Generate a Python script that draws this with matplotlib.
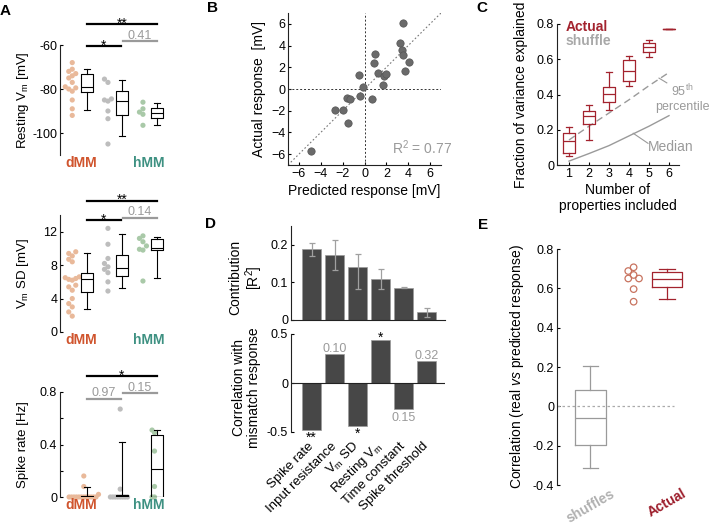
import numpy as np
import matplotlib
matplotlib.use("Agg")
import matplotlib.pyplot as plt

plt.rcParams["font.family"] = ["Liberation Sans", "DejaVu Sans"]
plt.rcParams["font.size"] = 9
plt.rcParams["mathtext.fontset"] = "custom"
plt.rcParams["mathtext.rm"] = "Liberation Sans"
plt.rcParams["mathtext.it"] = "Liberation Sans:italic"
plt.rcParams["axes.linewidth"] = 0.8
plt.rcParams["axes.edgecolor"] = "#222222"

W, H = 710, 524

# ---------------- A: properties per group (dMM, other, hMM)
rest_dots = [
    [-68, -71, -72, -73, -74, -75, -77, -79, -79.5, -80, -81, -85, -89, -92],
    [-75.5, -77, -84.5, -85, -85.5, -90, -93.5, -105],
    [-86, -89, -90.5, -91.5, -96.5],
]
rest_box = [  # whislo, q1, med, q3, whishi
    [-89.7, -81.5, -79, -73, -70.8],
    [-101.5, -92, -85.4, -81, -76],
    [-96.5, -93, -91, -88.5, -86.5],
]
rest_sig = [(0, 2, -50.5, "**"), (0, 1, -60.5, "*"), (1, 2, -58.2, "0.41")]

sd_dots = [
    [9.6, 9.4, 9.1, 8.7, 8.4, 6.6, 6.5, 6.4, 6.3, 6.2, 5.6, 5.4, 5.0, 4.0, 3.4, 3.0, 2.4, 1.9],
    [12.4, 10.5, 8.8, 8.2, 7.8, 7.5, 7.1, 6.0, 4.9],
    [11.5, 11.2, 10.8, 10.3, 9.9, 9.8, 6.1],
]
sd_box = [
    [2.7, 4.8, 6.3, 7.1, 9.5],
    [5.3, 6.7, 7.7, 9.2, 11.7],
    [6.5, 9.8, 10.1, 11.1, 11.4],
]
sd_sig = [(0, 2, 15.7, "**"), (0, 1, 13.36, "*"), (1, 2, 13.7, "0.14")]

spike_dots = [
    [0.16, 0.08, 0.02, 0, 0, 0, 0, 0, 0, 0, 0, 0, 0, 0, 0],
    [0.67, 0.06, 0, 0, 0, 0, 0, 0, 0, 0],
    [0.51, 0.49, 0.35, 0.08, 0, 0],
]
spike_box = [
    [0, 0, 0, 0.01, 0.08],
    [0, 0, 0.01, 0.015, 0.42],
    [0, 0, 0.21, 0.47, 0.51],
]
spike_sig = [(0, 2, 0.92, "*"), (0, 1, 0.75, "0.97"), (1, 2, 0.79, "0.15")]

group_labels = ["dMM", "hMM"]
dot_colors = ["#e9b99a", "#bdbdbd", "#a9c9a8"]

# ---------------- B: predicted vs actual
pred = [-4.9, -2.7, -2.0, -1.6, -1.3, -1.5, -0.4, -0.5, -0.1, 0.7, 0.9,
        1.0, 1.2, 1.7, 1.8, 2.0, 3.25, 3.4, 3.5, 3.55, 3.7, 4.1]
actual = [-5.7, -1.9, -1.9, -0.8, -0.9, -3.1, -0.6, 1.3, 0.2, -0.9, 2.4,
          3.2, 1.5, 0.4, 1.2, 1.4, 4.2, 3.6, 6.1, 3.1, 1.7, 2.5]
r2_text = "R$^2$ = 0.77"

# ---------------- C: variance explained
n_props = [1, 2, 3, 4, 5, 6]
c_box = [
    [0.051, 0.066, 0.138, 0.184, 0.218],
    [0.142, 0.231, 0.279, 0.309, 0.341],
    [0.313, 0.360, 0.402, 0.442, 0.525],
    [0.449, 0.478, 0.531, 0.593, 0.616],
    [0.610, 0.639, 0.667, 0.692, 0.707],
    [0.772, 0.772, 0.772, 0.772, 0.772],
]
shuffle_p95 = [0.142, 0.22, 0.295, 0.37, 0.45, 0.525]
shuffle_median = [0.022, 0.065, 0.11, 0.165, 0.22, 0.28]

# ---------------- D: contributions and correlations
props = ["Spike rate", "Input resistance", r"V$_\mathrm{m}$ SD",
         r"Resting V$_\mathrm{m}$", "Time constant", "Spike threshold"]
contrib = [0.188, 0.173, 0.140, 0.109, 0.086, 0.022]
contrib_lo = [0.171, 0.133, 0.082, 0.082, 0.085, 0.009]
contrib_hi = [0.206, 0.213, 0.175, 0.135, 0.087, 0.033]
corr = [-0.483, 0.297, -0.443, 0.436, -0.264, 0.22]
corr_p = ["**", "0.10", "*", "*", "0.15", "0.32"]

# ---------------- E: correlation real vs predicted
shuffle_stats = [-0.314, -0.195, -0.058, 0.082, 0.205]
actual_stats = [0.544, 0.608, 0.65, 0.681, 0.70]
actual_dots = [0.707, 0.688, 0.668, 0.65, 0.65, 0.596, 0.532]

RED = "#a3232e"
GREY = "#9a9a9a"
DMM_C = "#d0552e"
HMM_C = "#3e9182"


def add_ax(l, t, r, b):
    return fig.add_axes([l / W, 1 - b / H, (r - l) / W, (b - t) / H])


def stats(v):
    return dict(whislo=v[0], q1=v[1], med=v[2], q3=v[3], whishi=v[4], fliers=[])


def swarm(vals, center, dx, dy):
    placed, xs = [], []
    offs = [0] + [s * i * dx for i in range(1, 40) for s in (-1, 1)]
    for v in vals:
        for o in offs:
            if all(abs(v - pv) >= dy or abs(o - po) >= dx * 0.99 for pv, po in placed):
                break
        placed.append((v, o))
        xs.append(center + o)
    return xs


def style(ax, spines=("left",)):
    for s in ["left", "right", "top", "bottom"]:
        ax.spines[s].set_visible(s in spines)
    ax.tick_params(direction="in", length=2.5, width=0.8, labelsize=9, pad=2)


fig = plt.figure(figsize=(7.1, 5.24), dpi=100)

# ---------------- panel A
a_rows = [
    (45, 155, rest_dots, rest_box, rest_sig, (-110, -60), [-100, -80, -60], [],
     r"Resting V$_\mathrm{m}$ [mV]", [0.35, 1.37, 2.37], 0.1, 2.3),
    (215, 332, sd_dots, sd_box, sd_sig, (0, 14), [0, 4, 8, 12], [],
     r"V$_\mathrm{m}$ SD [mV]", [0.35, 1.37, 2.37], 0.1, 0.6),
    (392, 497, spike_dots, spike_box, spike_sig, (0, 0.8), [0, 0.4, 0.8], [0.2, 0.6],
     "Spike rate [Hz]", [0.68, 1.72, 2.7], 0.07, 0.025),
]
box_x = [0.77, 1.77, 2.77]
for top, bot, dots, boxes, sigs, ylim, yt, ymin, ylab, dx0, ddx, dy in a_rows:
    ax = add_ax(60, top, 172, bot)
    style(ax)
    for i in range(3):
        order = np.argsort(dots[i])
        vals = np.array(dots[i])[order]
        xs = swarm(vals, dx0[i], ddx, dy)
        ax.scatter(xs, vals, s=14, color=dot_colors[i], edgecolors="none",
                   zorder=1, clip_on=False)
    ax.bxp([stats(b) for b in boxes], positions=box_x, widths=0.33,
           capwidths=0.15, showfliers=False,
           boxprops=dict(color="k", lw=0.8), whiskerprops=dict(color="k", lw=0.8),
           capprops=dict(color="k", lw=0.8), medianprops=dict(color="k", lw=0.8),
           manage_ticks=False)
    for i0, i1, y, t in sigs:
        c = "k" if "*" in t else GREY
        x0 = box_x[i0] + (0.03 if i0 == 1 else 0)
        x1 = box_x[i1] - (0.03 if i1 == 1 else 0)
        ax.plot([x0, x1], [y, y], color=c, lw=1.6, clip_on=False)
        off = -2.5 if "*" in t else 1.5
        ax.annotate(t, ((x0 + x1) / 2, y), xytext=(0, off), textcoords="offset points",
                    ha="center", va="baseline", color=c, fontsize=10 if "*" in t else 9,
                    annotation_clip=False)
    ax.set_xlim(0, 3.2)
    ax.set_yticks(yt)
    ax.set_yticklabels([f"{v:g}" for v in yt])
    if ymin:
        ax.set_yticks(ymin, minor=True)
        ax.tick_params(which="minor", direction="in", length=2, width=0.8)
    ax.set_ylim(*ylim)
    ax.set_xticks([])
    ax.set_ylabel(ylab, fontsize=9.5)
    ax.yaxis.set_label_coords(-0.33, 0.5)
    ax.yaxis.label.set_va("center")
    for lbl, xx, col in zip(group_labels, [0.6, 2.54], [DMM_C, HMM_C]):
        ax.annotate(lbl, (xx, 0), xycoords=("data", "axes fraction"),
                    xytext=(0, -6), textcoords="offset points", ha="center",
                    va="center", color=col, fontweight="bold", fontsize=10,
                    annotation_clip=False)

# ---------------- panel B
axb = add_ax(288, 13, 441, 165)
style(axb, ("left", "bottom"))
lim = (-7, 7)
axb.plot(lim, lim, ls=(0, (1.5, 2)), color="#777777", lw=0.8)
axb.axhline(0, ls=(0, (2, 2)), color="#333333", lw=0.7)
axb.axvline(0, ls=(0, (2, 2)), color="#333333", lw=0.7)
axb.scatter(pred, actual, s=28, color="#6a6a6a", edgecolors="#555555",
            linewidths=0.5, zorder=3, clip_on=False)
axb.set_xlim(*lim)
axb.set_ylim(*lim)
ticks = [-6, -4, -2, 0, 2, 4, 6]
axb.set_xticks(ticks)
axb.set_yticks(ticks)
axb.text(8.0, -5.4, r2_text, ha="right", va="center", color=GREY, fontsize=10)
axb.set_xlabel("Predicted response [mV]", fontsize=10)
axb.set_ylabel("Actual response  [mV]", fontsize=10)
axb.xaxis.set_label_coords(0.5, -0.17)
axb.xaxis.label.set_va("center")
axb.yaxis.set_label_coords(-0.19, 0.5)
axb.yaxis.label.set_va("center")

# ---------------- panel C
axc = add_ax(557, 24, 679, 165)
style(axc, ("left", "bottom"))
axc.plot(n_props, shuffle_median, color=GREY, lw=1)
axc.plot(n_props, shuffle_p95, color=GREY, lw=1, ls=(0, (5, 3)))
axc.bxp([stats(b) for b in c_box], positions=n_props, widths=0.6,
        capwidths=0.3, showfliers=False,
        boxprops=dict(color=RED, lw=0.9), whiskerprops=dict(color=RED, lw=0.9),
        capprops=dict(color=RED, lw=0.9), medianprops=dict(color=RED, lw=0.9),
        manage_ticks=False)
axc.set_xlim(0.4, 6.5)
axc.set_ylim(0, 0.8)
axc.set_xticks(n_props)
axc.set_yticks([0, 0.2, 0.4, 0.6, 0.8])
axc.set_yticklabels(["0", "0.2", "0.4", "0.6", "0.8"])
axc.text(0.85, 0.785, "Actual", color=RED, fontweight="bold", fontsize=10, va="center")
axc.text(0.85, 0.705, "shuffle", color="#a8a8a8", fontweight="bold", fontsize=10, va="center")
axc.plot([5.5, 5.89], [0.493, 0.466], color=GREY, lw=0.8)
axc.text(6.68, 0.38, "95$^{\\mathrm{th}}$\npercentile", color=GREY, fontsize=9,
         ha="center", va="center", linespacing=1.25)
axc.plot([4.21, 4.95], [0.18, 0.123], color=GREY, lw=0.8)
axc.text(6.06, 0.104, "Median", color=GREY, fontsize=10, ha="center", va="center")
axc.set_xlabel("Number of\nproperties included", fontsize=10, linespacing=1.15)
axc.xaxis.set_label_coords(0.5, -0.235)
axc.xaxis.label.set_va("center")
axc.set_ylabel("Fraction of variance explained", fontsize=10)
axc.yaxis.set_label_coords(-0.295, 0.5)
axc.yaxis.label.set_va("center")

# ---------------- panel D
pos = np.arange(1, len(props) + 1)
axd1 = add_ax(291, 226, 445, 320)
style(axd1, ("left", "bottom"))
err = [np.array(contrib) - np.array(contrib_lo), np.array(contrib_hi) - np.array(contrib)]
axd1.bar(pos, contrib, width=0.85, color="#474747", edgecolor="#9a9a9a", linewidth=0.5)
axd1.errorbar(pos, contrib, yerr=err, fmt="none", ecolor="#a0a0a0", elinewidth=0.9,
              capsize=2.5, capthick=0.9)
axd1.set_xlim(0.1, 6.8)
axd1.set_ylim(0, 0.25)
axd1.set_xticks([])
axd1.set_yticks([0, 0.1, 0.2])
axd1.set_yticklabels(["0", "0.1", "0.2"])
axd1.set_ylabel("Contribution\n[R$^2$]", fontsize=10, linespacing=1.1)
axd1.yaxis.set_label_coords(-0.29, 0.45)
axd1.yaxis.label.set_va("center")

axd2 = add_ax(291, 334, 445, 432)
style(axd2)
axd2.bar(pos, corr, width=0.85, color="#474747", edgecolor="#9a9a9a", linewidth=0.5)
axd2.axhline(0, color="#222222", lw=0.8)
for x, v, t in zip(pos, corr, corr_p):
    star = "*" in t
    c = "k" if star else GREY
    if v > 0:
        off = -1 if star else 1.5
        va = "baseline"
    else:
        off = -8 if star else -2
        va = "top" if not star else "baseline"
    axd2.annotate(t, (x, v), xytext=(0, off), textcoords="offset points",
                  ha="center", va=va, color=c, fontsize=10 if star else 9,
                  annotation_clip=False)
axd2.set_xlim(0.1, 6.8)
axd2.set_ylim(-0.5, 0.5)
axd2.set_yticks([-0.5, 0, 0.5])
axd2.set_yticklabels(["-0.5", "0", "0.5"])
axd2.set_xticks(pos)
axd2.set_xticklabels(props, rotation=45, ha="right", va="center",
                     rotation_mode="anchor", fontsize=9.5)
axd2.tick_params(axis="x", length=0, pad=9)
axd2.set_ylabel("Correlation with\nmismatch response", fontsize=10, linespacing=1.1)
axd2.yaxis.set_label_coords(-0.29, 0.45)
axd2.yaxis.label.set_va("center")

# ---------------- panel E
axe = add_ax(557, 249, 690, 485)
style(axe)
axe.plot([0.566, 2.09], [0, 0], ls=(0, (2, 2)), color="#aaaaaa", lw=0.9)
axe.bxp([stats(shuffle_stats)], positions=[1], widths=0.4, capwidths=0.2,
        showfliers=False,
        boxprops=dict(color=GREY, lw=0.9), whiskerprops=dict(color=GREY, lw=0.9),
        capprops=dict(color=GREY, lw=0.9), medianprops=dict(color=GREY, lw=0.9),
        manage_ticks=False)
axe.bxp([stats(actual_stats)], positions=[2], widths=0.4, capwidths=0.2,
        showfliers=False,
        boxprops=dict(color=RED, lw=0.9), whiskerprops=dict(color=RED, lw=0.9),
        capprops=dict(color=RED, lw=0.9), medianprops=dict(color=RED, lw=0.9),
        manage_ticks=False)
order = np.argsort(actual_dots)[::-1]
vals = np.array(actual_dots)[order]
axe.scatter(swarm(vals, 1.565, 0.07, 0.025), vals, s=22, facecolors="none",
            edgecolors="#c8735f", linewidths=0.9)
axe.set_xlim(0.566, 2.3)
axe.set_ylim(-0.4, 0.8)
yt = [-0.4, -0.2, 0, 0.2, 0.4, 0.6, 0.8]
axe.set_yticks(yt)
axe.set_yticklabels([f"{v:g}" for v in yt])
axe.set_xticks([1, 2])
axe.set_xticklabels(["shuffles", "Actual"], rotation=30, ha="center",
                    fontweight="bold", fontsize=10)
axe.get_xticklabels()[0].set_color("#b0b0b0")
axe.get_xticklabels()[1].set_color("#9c1c2a")
axe.tick_params(axis="x", length=0, pad=1)
axe.set_ylabel("Correlation (real $\\it{vs}$ predicted response)", fontsize=10)
axe.yaxis.set_label_coords(-0.30, 0.5)
axe.yaxis.label.set_va("center")

# ---------------- panel letters
for lbl, x, y in [("A", 5, 11), ("B", 212, 8), ("C", 482, 8), ("D", 211, 224), ("E", 483, 225)]:
    fig.text(x / W, 1 - y / H, lbl, fontweight="bold", fontsize=11, ha="center", va="center")

fig.savefig("out.png", dpi=100)
